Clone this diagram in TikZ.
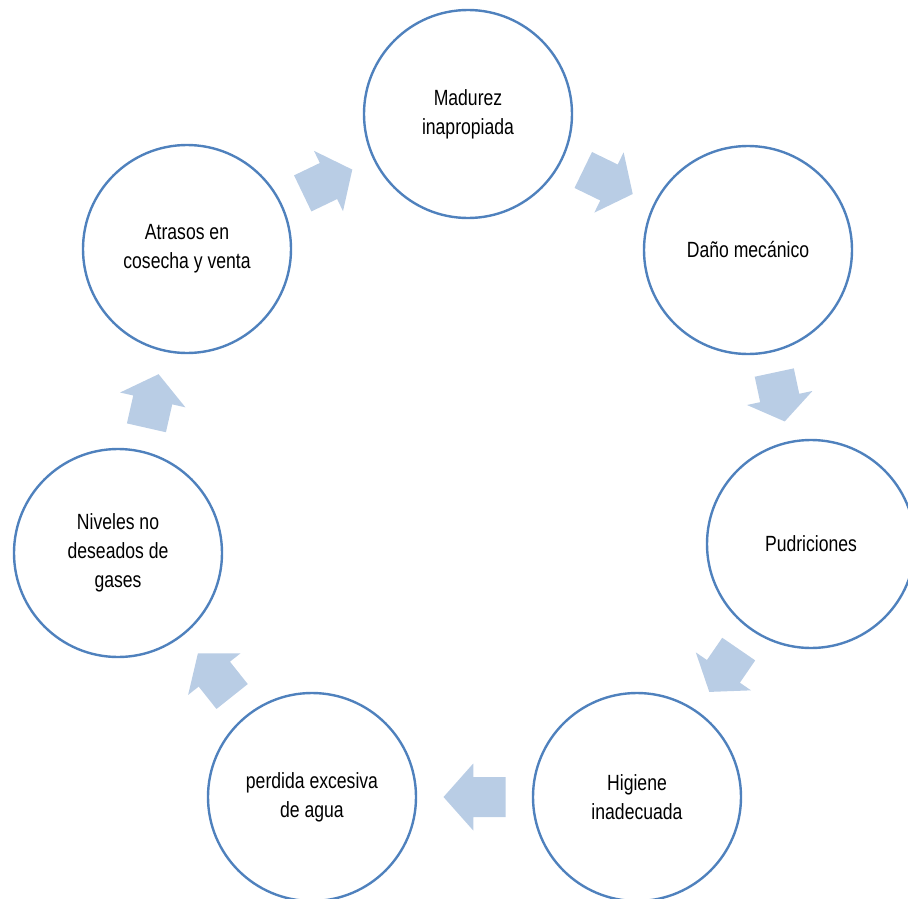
\documentclass[tikz,border=0pt]{standalone}
\usepackage{fontspec}
\setmainfont{Liberation Sans}[FakeStretch=0.8]
\usetikzlibrary{calc}
\definecolor{ringblue}{RGB}{79,129,189}
\definecolor{arrowblue}{RGB}{185,205,229}
\begin{document}
\begin{tikzpicture}[x=1pt,y=-1pt,
  stage/.style={circle, draw=ringblue, line width=2.4pt, minimum size=208pt, inner sep=0pt, align=center, font=\fontsize{22}{29}\selectfont},
  cyclearrow/.style={fill=arrowblue}]
\useasboundingbox (0,0) rectangle (908,899);
\node[stage] (n1) at (468,114) {Madurez\\inapropiada};
\node[stage] (n2) at (748,250) {Daño mecánico};
\node[stage] (n3) at (811,544) {Pudriciones};
\node[stage] (n4) at (637,797) {Higiene\\inadecuada};
\node[stage] (n5) at (312,797) {perdida excesiva\\de agua};
\node[stage] (n6) at (118,553) {Niveles no\\deseados de\\gases};
\node[stage] (n7) at (187,249) {Atrasos en\\cosecha y venta};
\foreach \a/\b/\L in {n1/n2/55, n2/n3/50, n3/n4/52, n4/n5/62, n5/n6/55, n6/n7/55, n7/n1/55} {
  \path let \p1=(\a.center), \p2=(\b.center), \n1={atan2(\y2-\y1,\x2-\x1)} in \pgfextra{\xdef\ang{\n1}};
  \begin{scope}[shift={($(\a.center)!0.5!(\b.center)$)}, rotate=\ang]
    \fill[cyclearrow] (-\L/2,-20) -- (0.02*\L,-20) -- (0.02*\L,-33.5) -- (\L/2,0)
      -- (0.02*\L,33.5) -- (0.02*\L,20) -- (-\L/2,20) -- cycle;
  \end{scope}
}
\end{tikzpicture}
\end{document}
